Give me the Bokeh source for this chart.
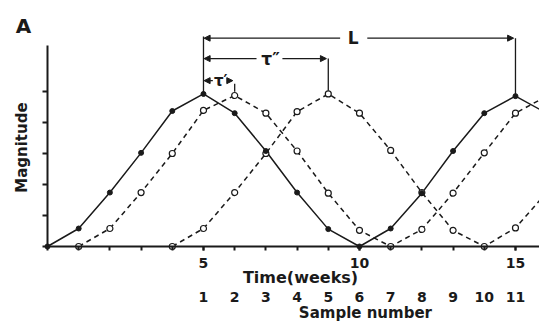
import math
from bokeh.plotting import figure
from bokeh.models import FixedTicker, LinearAxis, Range1d, Arrow, NormalHead, Label
from bokeh.embed import file_html
from bokeh.resources import INLINE

# ---- data ----
weeks_solid = list(range(0, 17))
mag_solid = [0, 0.58, 1.74, 3.02, 4.37, 4.92, 4.3, 3.08, 1.74, 0.56, 0, 0.58, 1.72, 3.08, 4.3, 4.85, 4.3]

weeks_lag1 = list(range(1, 17))
mag_lag1 = [0, 0.58, 1.74, 3.0, 4.39, 4.87, 4.3, 3.08, 1.72, 0.52, 0, 0.55, 1.72, 3.02, 4.3, 4.85]

weeks_lag4 = list(range(4, 17))
mag_lag4 = [0, 0.58, 1.74, 3.0, 4.35, 4.92, 4.3, 3.1, 1.74, 0.52, 0, 0.6, 1.74]

time_ticks = [5, 10, 15]
time_minor_ticks = list(range(0, 16))
sample_numbers = list(range(1, 12))
sample_weeks = list(range(5, 16))
magnitude_ticks = [0, 1, 2, 3, 4, 5]

# intervals marked on the chart: (label, start week, end week)
interval_L = ("L", 5, 15)
interval_tau2 = ("\u03c4\u2033", 5, 9)
interval_tau1 = ("\u03c4\u2032", 5, 6)

FONT = "DejaVu Sans"
INK = "#1a1a1a"

# the frame covers the whole canvas; axes are pinned at the data origin
p = figure(width=539, height=321, output_backend="svg", toolbar_location=None,
           x_range=Range1d(-1.506, 15.77), y_range=Range1d(-2.42, 7.935),
           min_border_left=0, min_border_right=0, min_border_top=0, min_border_bottom=0,
           x_axis_type=None, y_axis_type=None)
p.outline_line_color = None
p.xgrid.visible = False
p.ygrid.visible = False

# ---- axes ----
xax = LinearAxis(ticker=FixedTicker(ticks=time_ticks, minor_ticks=time_minor_ticks),
                 fixed_location=0, bounds=(0, 16))
xax.axis_line_width = 2
xax.axis_line_color = INK
xax.major_tick_out = 4
xax.major_tick_in = 0
xax.minor_tick_out = 4
xax.minor_tick_in = 0
xax.major_tick_line_width = 2
xax.minor_tick_line_width = 2
xax.major_tick_line_color = INK
xax.minor_tick_line_color = INK
xax.major_label_standoff = 8
xax.major_label_text_font = FONT
xax.major_label_text_font_style = "bold"
xax.major_label_text_font_size = "14px"
xax.major_label_text_color = INK
p.add_layout(xax, "below")

sax = LinearAxis(ticker=FixedTicker(ticks=sample_weeks), fixed_location=0,
                 major_label_overrides={w: str(n) for w, n in zip(sample_weeks, sample_numbers)})
sax.axis_line_color = None
sax.major_tick_line_color = None
sax.minor_tick_line_color = None
sax.major_tick_out = 0
sax.major_tick_in = 0
sax.minor_tick_out = 0
sax.major_label_standoff = 46
sax.major_label_text_font = FONT
sax.major_label_text_font_style = "bold"
sax.major_label_text_font_size = "14px"
sax.major_label_text_color = INK
p.add_layout(sax, "below")

yax = LinearAxis(ticker=FixedTicker(ticks=magnitude_ticks), fixed_location=0, bounds=(0, 6.48),
                 major_label_overrides={t: "" for t in magnitude_ticks})
yax.axis_line_width = 2
yax.axis_line_color = INK
yax.major_tick_out = 5
yax.major_tick_in = 0
yax.major_tick_line_width = 2
yax.major_tick_line_color = INK
yax.minor_tick_line_color = None
p.add_layout(yax, "left")

# ---- series ----
p.line(weeks_lag4, mag_lag4, line_color=INK, line_width=1.5, line_dash="5 4")
p.line(weeks_lag1, mag_lag1, line_color=INK, line_width=1.5, line_dash="5 4")
p.line(weeks_solid, mag_solid, line_color=INK, line_width=1.5)
p.scatter(weeks_lag4, mag_lag4, size=6, marker="circle", fill_color="white", line_color=INK, line_width=1.2)
p.scatter(weeks_lag1, mag_lag1, size=6, marker="circle", fill_color="white", line_color=INK, line_width=1.2)
p.scatter(weeks_solid, mag_solid, size=5, marker="circle", fill_color=INK, line_color=INK)

# ---- interval brackets ----
def mag_at(weeks, mags, w):
    return mags[weeks.index(w)]

level_L, level_t2, level_t1 = 6.72, 6.06, 5.35
x0 = interval_L[1]
p.segment(x0=[x0, interval_L[2], interval_tau2[2], interval_tau1[2]],
          y0=[mag_at(weeks_solid, mag_solid, x0), mag_at(weeks_solid, mag_solid, interval_L[2]),
              mag_at(weeks_lag4, mag_lag4, interval_tau2[2]) + 0.1, mag_at(weeks_lag1, mag_lag1, interval_tau1[2]) + 0.12],
          x1=[x0, interval_L[2], interval_tau2[2], interval_tau1[2]],
          y1=[level_L + 0.05, level_L, level_t2, level_t1 - 0.1],
          line_color=INK, line_width=1.3)

def bracket(lbl, a, b, level, gap, lx, fs):
    head = dict(size=6, fill_color=INK, line_color=INK)
    p.add_layout(Arrow(end=NormalHead(**head), x_start=lx - gap[0], y_start=level, x_end=a + 0.02, y_end=level,
                       line_color=INK, line_width=1.2))
    p.add_layout(Arrow(end=NormalHead(**head), x_start=lx + gap[1], y_start=level, x_end=b - 0.06, y_end=level,
                       line_color=INK, line_width=1.2))
    p.add_layout(Label(x=lx, y=level, text=lbl, text_align="center", text_baseline="middle",
                       text_font=FONT, text_font_style="bold", text_font_size=fs, text_color=INK))

bracket(interval_L[0], interval_L[1], interval_L[2], level_L, (0.42, 0.45), 9.8, "17px")
bracket(interval_tau2[0], interval_tau2[1], interval_tau2[2], level_t2, (0.45, 0.38), 7.15, "17px")
bracket(interval_tau1[0], interval_tau1[1], interval_tau1[2], level_t1, (0.25, 0.22), 5.55, "15px")

# ---- titles ----
def text_label(x, y, txt, size, angle=0.0):
    p.add_layout(Label(x=x, y=y, text=txt, angle=angle, text_align="center", text_baseline="middle",
                       text_font=FONT, text_font_style="bold", text_font_size=size, text_color=INK))

text_label(-0.77, 7.10, "A", "20px")
text_label(-0.83, 3.19, "Magnitude", "15px", angle=math.pi / 2)
text_label(8.11, -1.0, "Time(weeks)", "16px")
text_label(10.19, -2.15, "Sample number", "15px")

open("out.html", "w").write(file_html(p, INLINE))
